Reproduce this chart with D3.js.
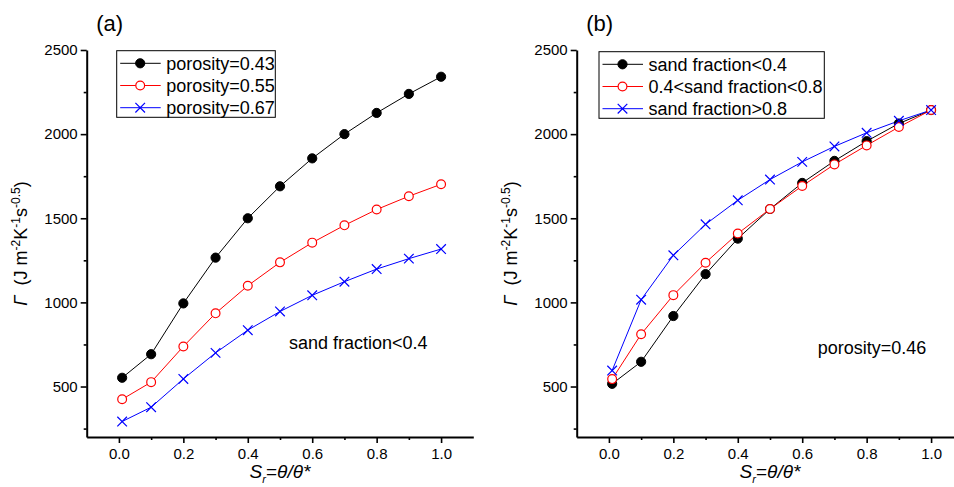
<!DOCTYPE html>
<html>
<head>
<meta charset="utf-8">
<script src="https://cdn.jsdelivr.net/npm/d3@7"></script>
<style>
  html, body { margin: 0; padding: 0; background: #fff; }
  svg { display: block; font-family: "Liberation Sans", Arial, sans-serif; }
</style>
</head>
<body>
<svg id="chart" width="954" height="487"></svg>
<script>
// Degree of saturation values shared by every curve
const saturation = [0.01, 0.1, 0.2, 0.3, 0.4, 0.5, 0.6, 0.7, 0.8, 0.9, 1.0];

// Panel (a): thermal inertia for different porosities, sand fraction < 0.4
const porosity043 = [552, 692, 994, 1266, 1500, 1690, 1856, 2000, 2126, 2239, 2341];
const porosity055 = [424, 526, 738, 935, 1099, 1238, 1355, 1458, 1552, 1631, 1702];
const porosity067 = [292, 377, 545, 700, 835, 946, 1042, 1123, 1198, 1260, 1317];

// Panel (b): thermal inertia for different sand fractions, porosity = 0.46
const sandLow = [516, 647, 919, 1168, 1379, 1555, 1710, 1841, 1958, 2063, 2143];
const sandMid = [544, 811, 1043, 1236, 1409, 1555, 1692, 1820, 1933, 2042, 2143];
const sandHigh = [595, 1016, 1280, 1464, 1607, 1730, 1835, 1927, 2008, 2079, 2143];

const xMajorTicks = [0.0, 0.2, 0.4, 0.6, 0.8, 1.0];
const xMinorTicks = [0.1, 0.3, 0.5, 0.7, 0.9];
const yMajorTicks = [500, 1000, 1500, 2000, 2500];
const yMinorTicks = [250, 750, 1250, 1750, 2250];

const panels = [
  {
    label: "(a)", left: 86.7, right: 473.3, titleX: 280,
    note: "sand fraction<0.4", noteX: 289, noteY: 349,
    legend: { x: 116.7, y: 50.7, w: 158.6, h: 66.6 },
    series: [
      { name: "porosity=0.43", values: porosity043, color: "#000", marker: "dot" },
      { name: "porosity=0.55", values: porosity055, color: "#ff0000", marker: "ring" },
      { name: "porosity=0.67", values: porosity067, color: "#0000ff", marker: "cross" }
    ]
  },
  {
    label: "(b)", left: 576.7, right: 963.3, titleX: 770,
    note: "porosity=0.46", noteX: 817.7, noteY: 354,
    legend: { x: 599, y: 51.7, w: 225.3, h: 66.6 },
    series: [
      { name: "sand fraction<0.4", values: sandLow, color: "#000", marker: "dot" },
      { name: "0.4<sand fraction<0.8", values: sandMid, color: "#ff0000", marker: "ring" },
      { name: "sand fraction>0.8", values: sandHigh, color: "#0000ff", marker: "cross" }
    ]
  }
];

const plotTop = 50, plotBottom = 437;
const svg = d3.select("#chart");

function drawMarker(g, type, color, cx, cy) {
  if (type === "dot") {
    g.append("circle").attr("cx", cx).attr("cy", cy).attr("r", 4.6)
      .attr("fill", color).attr("stroke", color).attr("stroke-width", 1);
  } else if (type === "ring") {
    g.append("circle").attr("cx", cx).attr("cy", cy).attr("r", 4.4)
      .attr("fill", "#fff").attr("stroke", color).attr("stroke-width", 1.2);
  } else {
    const s = 4.8;
    g.append("path")
      .attr("d", `M${cx - s},${cy - s}L${cx + s},${cy + s}M${cx - s},${cy + s}L${cx + s},${cy - s}`)
      .attr("stroke", color).attr("stroke-width", 1.2).attr("fill", "none");
  }
}

panels.forEach(p => {
  const x = d3.scaleLinear().domain([-0.1, 1.1]).range([p.left, p.right]);
  const y = d3.scaleLinear().domain([200, 2500]).range([plotBottom, plotTop]);
  const g = svg.append("g");

  // Axes: major ticks with labels, minor ticks without
  g.append("g").attr("transform", `translate(0,${plotBottom})`)
    .call(d3.axisBottom(x).tickValues(xMajorTicks).tickFormat(d3.format(".1f"))
      .tickSize(6).tickPadding(5).tickSizeOuter(0));
  g.append("g").attr("transform", `translate(0,${plotBottom})`)
    .call(d3.axisBottom(x).tickValues(xMinorTicks).tickFormat("").tickSize(3).tickSizeOuter(0))
    .select(".domain").remove();
  g.append("g").attr("transform", `translate(${p.left},0)`)
    .call(d3.axisLeft(y).tickValues(yMajorTicks).tickFormat(d3.format("d"))
      .tickSize(6).tickPadding(3).tickSizeOuter(0));
  g.append("g").attr("transform", `translate(${p.left},0)`)
    .call(d3.axisLeft(y).tickValues(yMinorTicks).tickFormat("").tickSize(3).tickSizeOuter(0))
    .select(".domain").remove();

  g.selectAll(".domain").attr("stroke", "#000").attr("stroke-width", 2);
  g.selectAll(".tick line").attr("stroke", "#000").attr("stroke-width", 1.6);
  g.selectAll(".tick text").attr("font-size", 15).attr("fill", "#000")
    .attr("font-family", "'Liberation Sans', Arial, sans-serif");

  // Curves
  const line = d3.line().x((d, i) => x(saturation[i])).y(d => y(d));
  p.series.forEach(s => {
    g.append("path").datum(s.values).attr("d", line)
      .attr("fill", "none").attr("stroke", s.color).attr("stroke-width", 1);
  });
  p.series.forEach(s => {
    const mg = g.append("g");
    s.values.forEach((v, i) => drawMarker(mg, s.marker, s.color, x(saturation[i]), y(v)));
  });

  // Legend
  const L = p.legend;
  const lg = g.append("g");
  lg.append("rect").attr("x", L.x).attr("y", L.y).attr("width", L.w).attr("height", L.h)
    .attr("fill", "#fff").attr("stroke", "#000").attr("stroke-width", 1);
  const rowH = 22.2;
  p.series.forEach((s, i) => {
    const ry = L.y + 12.6 + i * rowH;
    lg.append("line").attr("x1", L.x + 3.5).attr("x2", L.x + 44).attr("y1", ry).attr("y2", ry)
      .attr("stroke", s.color).attr("stroke-width", 1);
    drawMarker(lg, s.marker, s.color, L.x + 23.5, ry);
    lg.append("text").attr("x", L.x + 49.5).attr("y", ry + 6.3)
      .attr("font-size", 18).attr("fill", "#000").text(s.name);
  });

  // Annotation
  g.append("text").attr("x", p.noteX).attr("y", p.noteY)
    .attr("font-size", 18).attr("fill", "#000").text(p.note);

  // Panel label
  g.append("text").attr("x", p.left + 9.5).attr("y", 31)
    .attr("font-size", 22).attr("fill", "#000").text(p.label);

  // Y title
  const cx = p.left - 60, cy = (plotTop + plotBottom) / 2;
  const yt = g.append("text")
    .attr("transform", `translate(${cx},${cy}) rotate(-90)`)
    .attr("text-anchor", "middle").attr("font-size", 18).attr("fill", "#000");
  yt.append("tspan").attr("font-style", "italic").text("Γ");
  yt.append("tspan").text("\u00a0\u00a0(J m");
  yt.append("tspan").attr("font-size", 12).attr("dy", -7).text("-2");
  yt.append("tspan").attr("dy", 7).text("K");
  yt.append("tspan").attr("font-size", 12).attr("dy", -7).text("-1");
  yt.append("tspan").attr("dy", 7).text("s");
  yt.append("tspan").attr("font-size", 12).attr("dy", -7).text("-0.5");
  yt.append("tspan").attr("dy", 7).text(")");

  // X title
  const xt = g.append("text")
    .attr("x", p.titleX).attr("y", 478)
    .attr("text-anchor", "middle").attr("font-size", 19).attr("fill", "#000");
  xt.append("tspan").attr("font-style", "italic").text("S");
  xt.append("tspan").attr("font-style", "italic").attr("font-size", 11).attr("dy", 5).text("r");
  xt.append("tspan").attr("dy", -5).text("=");
  xt.append("tspan").attr("font-style", "italic").text("θ/θ*");
});
</script>
</body>
</html>
